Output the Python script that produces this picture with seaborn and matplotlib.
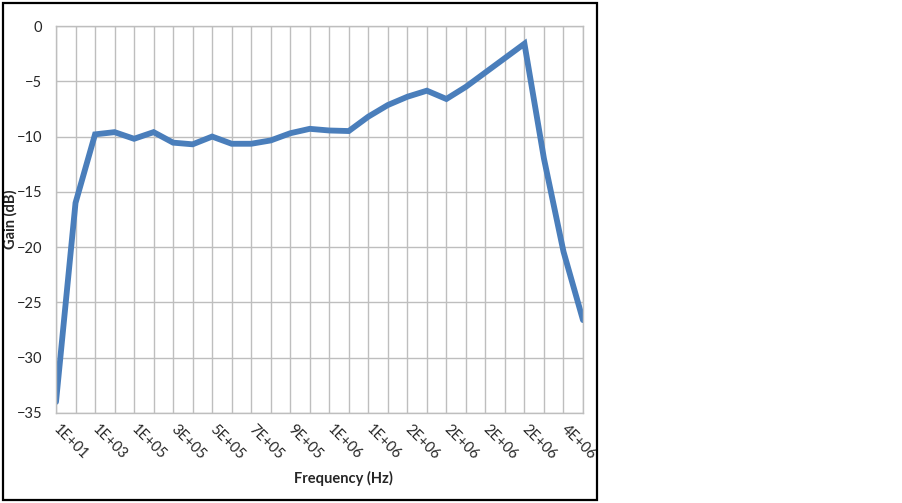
import numpy as np
import pandas as pd
import matplotlib
matplotlib.use("Agg")
import matplotlib.pyplot as plt
from matplotlib.patches import Rectangle
import seaborn as sns

# Gain readings, one per frequency step (28 steps, every other one labelled)
gain_db = [-34.0, -16.0, -9.8, -9.6, -10.2, -9.6, -10.55, -10.7, -10.0, -10.65,
           -10.65, -10.35, -9.7, -9.3, -9.45, -9.5, -8.2, -7.15, -6.4, -5.85,
           -6.6, -5.5, -4.2, -2.9, -1.6, -12.0, -20.4, -26.6]
freq_labels = ["1E+01", "1E+03", "1E+05", "3E+05", "5E+05", "7E+05", "9E+05",
               "1E+06", "1E+06", "2E+06", "2E+06", "2E+06", "2E+06", "4E+06"]
y_ticks = [0, -5, -10, -15, -20, -25, -30, -35]

df = pd.DataFrame({"step": np.arange(len(gain_db)), "gain": gain_db})

sns.set_style("white")
plt.rcParams["font.family"] = ["Lato", "DejaVu Sans"]

fig = plt.figure(figsize=(9.02, 5.03), dpi=100)
ax = fig.add_axes([56 / 902, 90 / 503, 527 / 902, 387 / 503])

sns.lineplot(data=df, x="step", y="gain", ax=ax, color="#4A7EBB",
             linewidth=4.2, solid_joinstyle="miter")

ax.set_xlim(0, len(gain_db) - 1)
ax.set_ylim(-35, 0)
ax.set_yticks(y_ticks)
ax.set_xticks(np.arange(len(gain_db)), minor=True)
ax.set_xticks(np.arange(0, len(gain_db), 2))
ax.set_xticklabels(freq_labels, rotation=-45, ha="left", va="center",
                   rotation_mode="anchor", fontsize=10.5)
ax.tick_params(axis="y", labelsize=10.5, length=0, pad=10)
ax.tick_params(axis="x", length=0, pad=10)
ax.tick_params(which="minor", length=0)

ax.grid(True, which="both", color="#BEBEBE", linewidth=1.0)
ax.set_axisbelow(True)
for s in ax.spines.values():
    s.set_color("#BEBEBE")
    s.set_linewidth(1.0)

ax.set_ylabel("Gain (dB)", fontsize=10.5, fontweight="bold")
ax.yaxis.set_label_coords(-0.073, 0.5)
ax.set_xlabel("Frequency (Hz)", fontsize=10.5, fontweight="bold")
ax.xaxis.set_label_coords(0.545, -0.15)

# outer chart border
fig.patches.append(Rectangle((3 / 902, 3 / 503), 594 / 902, 497 / 503,
                             transform=fig.transFigure, fill=False,
                             edgecolor="black", linewidth=1.6))

fig.savefig("out.png", dpi=100)
